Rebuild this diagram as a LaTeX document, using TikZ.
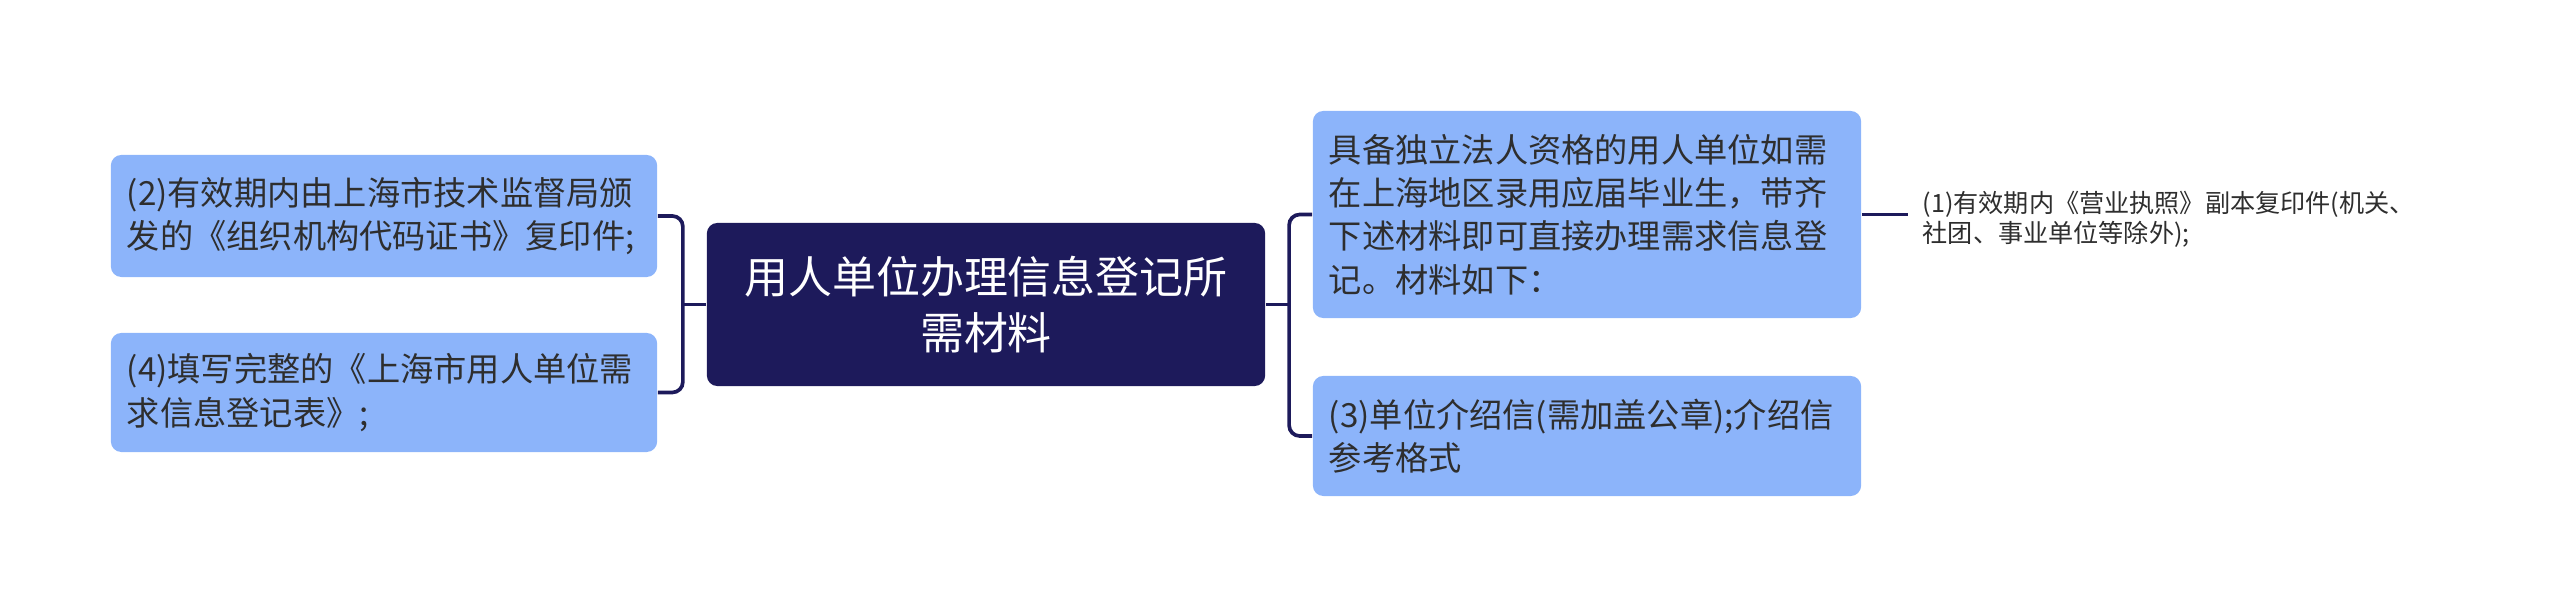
\documentclass[tikz,border=0pt]{standalone}
\usepackage{fontspec}
\setmainfont{Noto Sans CJK SC}
\usetikzlibrary{calc}
\usetikzlibrary{shapes,arrows,positioning}
\definecolor{navy}{HTML}{1D1A5B}
\definecolor{skyblue}{HTML}{8CB4FA}
\definecolor{inkgray}{HTML}{2E2E2E}

\begin{document}
\begin{tikzpicture}[x=0.01cm, y=-0.01cm,
     topic/.style = {rectangle, rounded corners=3pt, fill=navy, text=white, align=center,
      text width=5.2cm, inner xsep=0.19cm, minimum height=1.63cm,
      font=\fontsize{12.5pt}{15.7pt}\selectfont},
     item/.style = {rectangle, rounded corners=3pt, fill=skyblue, text=inkgray, align=left,
      inner xsep=0.16cm, font=\fontsize{9.45pt}{12.3pt}\selectfont},
     leaf/.style = {text=inkgray, align=left, inner xsep=0.14cm,
      font=\fontsize{7.15pt}{8.6pt}\selectfont},
     link/.style = {draw=navy, line width=1.05pt, rounded corners=3pt}
    ]
    \useasboundingbox (0,0) rectangle (2560,607);
    \node [topic] (root) at (986,304.5) {用人单位办理信息登记所\\需材料};
    \node [item, text width=5.14cm, minimum height=1.22cm] (lic2) at (384,216)
      {(2)有效期内由上海市技术监督局颁\\发的《组织机构代码证书》复印件;};
    \node [item, text width=5.14cm, minimum height=1.19cm] (form4) at (384,392.5)
      {(4)填写完整的《上海市用人单位需\\求信息登记表》;};
    \node [item, text width=5.16cm, minimum height=2.07cm] (req) at (1587,214.5)
      {具备独立法人资格的用人单位如需\\在上海地区录用应届毕业生，带齐\\下述材料即可直接办理需求信息登\\记。材料如下：};
    \node [item, text width=5.16cm, minimum height=1.20cm] (letter3) at (1587,436)
      {(3)单位介绍信(需加盖公章);介绍信\\参考格式};
    \node [leaf, anchor=west] (lic1) at (1908,219)
      {(1)有效期内《营业执照》副本复印件(机关、\\社团、事业单位等除外);};

    \draw[link] (root.west) -- ++(-25,0);
    \draw[link] (lic2.east) -- ++(25,0) |- (form4.east);
    \draw[link] (root.east) -- ++(25,0);
    \draw[link] (req.west) -- ++(-23,0) |- (letter3.west);
    \draw[link] (req.east) -- (req.east -| lic1.west);
\end{tikzpicture}
\end{document}
